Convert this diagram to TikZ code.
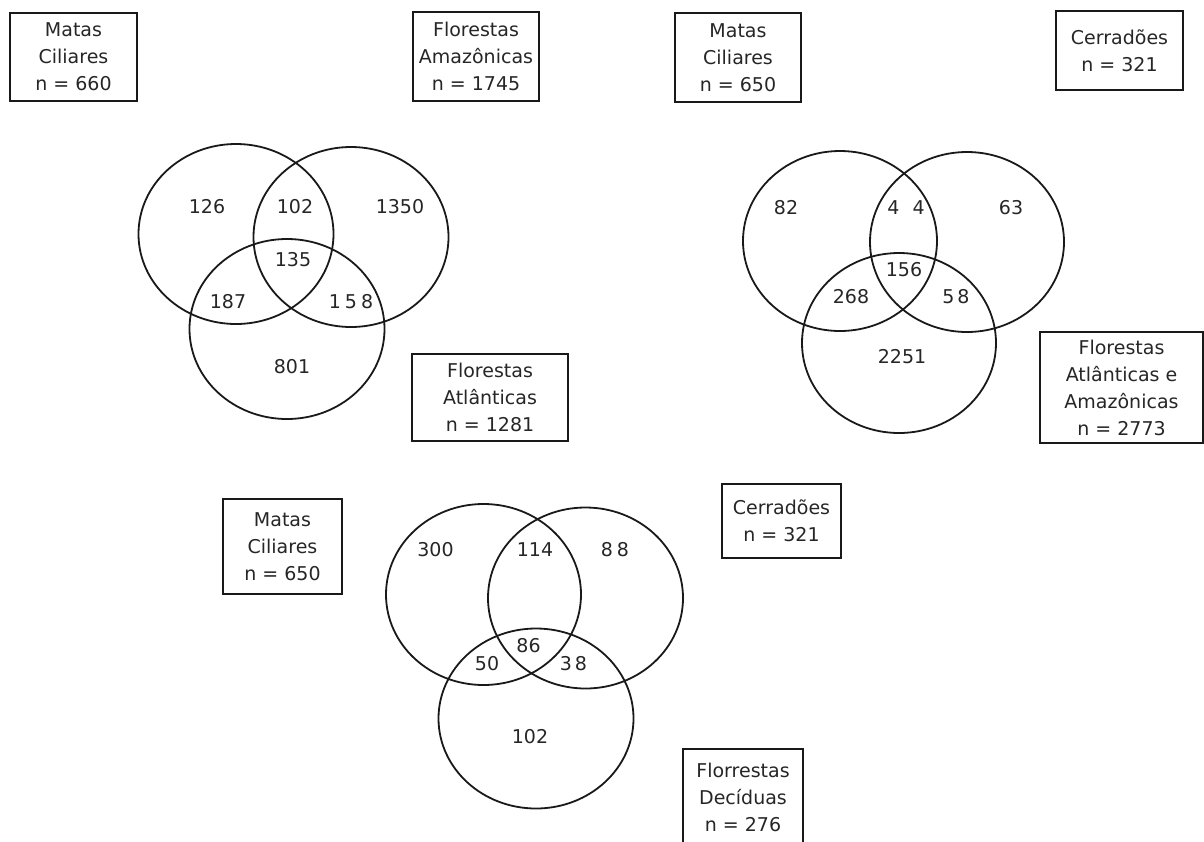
\documentclass[tikz,border=0pt]{standalone}
\usepackage{fontspec}
\setmainfont{DejaVu Sans}
\begin{document}
\begin{tikzpicture}[x=1pt,y=-1pt,
  setline/.style={line width=1.8pt, draw=black!90},
  box/.style={draw=black!90, line width=1.8pt, align=center, inner sep=0pt, text=black!85, font=\fontsize{19}{27}\selectfont},
  num/.style={font=\fontsize{19}{22}\selectfont, text=black!85, inner sep=0pt}]
\useasboundingbox (0,0) rectangle (1204,841);
\clip (0,0) rectangle (1204,841);

% ---------- Diagram 1 ----------
\draw[setline] (236,234) ellipse [x radius=97.5pt, y radius=90pt];
\draw[setline] (351,237) ellipse [x radius=97.5pt, y radius=90pt];
\draw[setline] (287,329) ellipse [x radius=97.5pt, y radius=90pt];
\node[num] (a1) at (207,207) {126};
\node[num] (a2) at (295,207) {102};
\node[num] (a3) at (400,207) {1350};
\node[num] (a4) at (293,260) {135};
\node[num] (a5) at (228,302) {187};
\node[num] (a6) at (351,302) {1\hspace{4pt}5\hspace{4pt}8};
\node[num] (a7) at (292,367) {801};
\node[box, minimum width=127pt, minimum height=88pt] (b1) at (73.5,57) {Matas\\Ciliares\\n = 660};
\node[box, minimum width=126pt, minimum height=89pt] (b2) at (476,56.5) {Florestas\\Amazônicas\\n = 1745};
\node[box, minimum width=156pt, minimum height=87pt] (b3) at (490,397.5) {Florestas\\Atlânticas\\n = 1281};

% ---------- Diagram 2 ----------
\draw[setline] (840,241) ellipse [x radius=97pt, y radius=90pt];
\draw[setline] (967,242) ellipse [x radius=97pt, y radius=90pt];
\draw[setline] (899,343) ellipse [x radius=97pt, y radius=90pt];
\node[num] (c1) at (786,208) {82};
\node[num] (c2) at (906,208) {4\hspace{13pt}4};
\node[num] (c3) at (1011,208) {63};
\node[num] (c4) at (904,270) {156};
\node[num] (c5) at (851,297) {268};
\node[num] (c6) at (956,297) {5\hspace{3pt}8};
\node[num] (c7) at (902,357) {2251};
\node[box, minimum width=126pt, minimum height=89pt] (d1) at (738,57.5) {Matas\\Ciliares\\n = 650};
\node[box, minimum width=127pt, minimum height=79pt] (d2) at (1119.5,50.5) {Cerradões\\n = 321};
\node[box, minimum width=163pt, minimum height=111pt] (d3) at (1121.5,387.5) {Florestas\\Atlânticas e\\Amazônicas\\n = 2773};

% ---------- Diagram 3 ----------
\draw[setline] (483.5,594.5) ellipse [x radius=97.5pt, y radius=90.5pt];
\draw[setline] (585.5,598) ellipse [x radius=97.5pt, y radius=90.5pt];
\draw[setline] (536,718.5) ellipse [x radius=97.5pt, y radius=90pt];
\node[num] (e1) at (435.5,550) {300};
\node[num] (e2) at (535,550) {114};
\node[num] (e3) at (615,550) {8\hspace{4pt}8};
\node[num] (e4) at (528.5,646) {86};
\node[num] (e5) at (487,664) {50};
\node[num] (e6) at (573.5,664) {3\hspace{3pt}8};
\node[num] (e7) at (530,737) {102};
\node[box, minimum width=119pt, minimum height=95pt] (f1) at (282.5,546.5) {Matas\\Ciliares\\n = 650};
\node[box, minimum width=119pt, minimum height=74pt] (f2) at (781.5,521) {Cerradões\\n = 321};
\node[box, minimum width=120pt, minimum height=96pt] (f3) at (743,797) {Florrestas\\Decíduas\\n = 276};
\end{tikzpicture}
\end{document}
